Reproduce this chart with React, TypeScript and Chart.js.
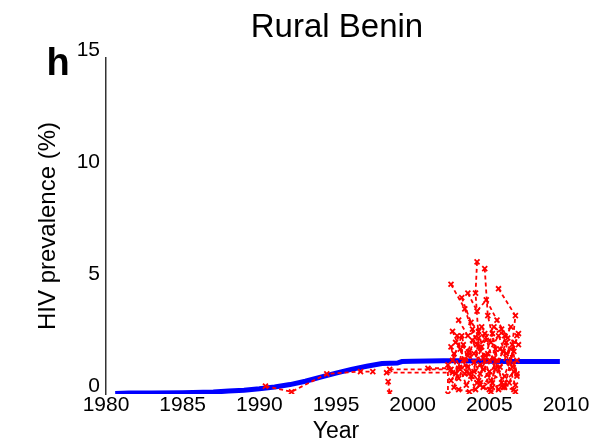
import React, { useEffect, useRef } from "react";
import { Chart, registerables } from "chart.js";

Chart.register(...registerables);

const FONT = "'Liberation Sans', Arial, sans-serif";

// Title texts
const chartTitle = "Rural Benin";
const panelLetter = "h";

// x tick labels (years) and y tick labels
const xTicks = [1980, 1985, 1990, 1995, 2000, 2005, 2010];
const yTicks = [0, 5, 10, 15];

// Model fit (blue)
const modelYears = [1980.6, 1981.5, 1983, 1985, 1987, 1988, 1989, 1990, 1991, 1992, 1993, 1994, 1995, 1996, 1997, 1998, 1999, 1999.3, 2000, 2001, 2002, 2003, 2004, 2005, 2006, 2007, 2008, 2009.6];
const modelValues = [0.02, 0.04, 0.05, 0.06, 0.09, 0.13, 0.17, 0.23, 0.31, 0.42, 0.57, 0.75, 0.93, 1.1, 1.24, 1.36, 1.38, 1.45, 1.46, 1.47, 1.48, 1.48, 1.47, 1.46, 1.45, 1.45, 1.45, 1.45];

// Surveillance sites (red dashed, x markers): [year, prevalence]
const site01: [number, number][] = [[1990.4, 0.35], [1992.1, 0.1], [1994.4, 0.9], [1996.6, 1.0], [1997.4, 1.0]];
const site02: [number, number][] = [[1998.5, 1.1], [2002.5, 1.1]];
const site03: [number, number][] = [[1998.3, 0.95], [2002.6, 0.95]];
const site04: [number, number][] = [[1998.4, 0.55], [1998.5, 0.05]];
const site05: [number, number][] = [[2002.5, 4.9], [2003.4, 3.8], [2004.2, 2.2], [2005.0, 1.5], [2006.0, 0.8]];
const site06: [number, number][] = [[2004.2, 5.9], [2004.1, 4.5], [2004.3, 2.5], [2004.0, 1.0]];
const site07: [number, number][] = [[2005.6, 4.7], [2006.7, 3.5], [2006.5, 2.2], [2006.8, 0.8]];
const site08: [number, number][] = [[2004.7, 5.6], [2004.9, 3.5], [2005.4, 2.0], [2005.2, 0.5]];
const site09: [number, number][] = [[2002.6, 2.8], [2003.1, 2.0], [2003.6, 1.2], [2004.6, 0.3], [2005.5, 1.5]];
const site10: [number, number][] = [[2003.0, 3.3], [2003.6, 2.6], [2004.5, 3.0], [2005.1, 2.3], [2006.1, 1.8]];
const site11: [number, number][] = [[2002.7, 1.8], [2003.5, 0.4], [2004.4, 1.3], [2005.6, 0.2], [2006.6, 1.0]];
const site12: [number, number][] = [[2003.2, 4.3], [2003.8, 3.2], [2004.8, 2.4], [2005.8, 2.9], [2006.5, 1.2]];
const site13: [number, number][] = [[2002.5, 0.6], [2003.3, 1.5], [2004.1, 0.2], [2005.0, 1.0], [2006.7, 0.1]];
const site14: [number, number][] = [[2002.8, 2.3], [2004.0, 1.8], [2005.3, 3.0], [2006.0, 2.6], [2006.9, 2.2]];
const site15: [number, number][] = [[2003.6, 4.5], [2004.2, 3.7], [2004.8, 4.2], [2005.5, 3.3], [2006.2, 2.5]];
const site16: [number, number][] = [[2002.3, 1.3], [2002.3, 0.0]];
const site17: [number, number][] = [[2001.0, 1.15], [2003.0, 1.15]];
const site18: [number, number][] = [[2003.4, 0.9], [2004.3, 0.6], [2005.2, 0.3], [2006.3, 0.5], [2006.8, 1.5]];
const site19: [number, number][] = [[2003.9, 2.9], [2004.6, 1.6], [2005.7, 2.0], [2006.4, 3.0]];
const site20: [number, number][] = [[2002.6, 1.5], [2003.2, 2.6], [2003.8, 0.8], [2004.5, 2.1], [2005.1, 0.6], [2005.9, 1.9], [2006.7, 0.4]];
const site21: [number, number][] = [[2002.7, 0.3], [2003.3, 2.2], [2004.0, 1.4], [2004.7, 2.7], [2005.4, 1.1], [2006.1, 2.3], [2006.8, 0.9]];
const site22: [number, number][] = [[2002.9, 2.6], [2003.5, 1.0], [2004.2, 0.5], [2004.9, 1.8], [2005.6, 2.6], [2006.3, 1.4], [2006.9, 2.7]];
const site23: [number, number][] = [[2002.5, 2.1], [2003.0, 0.7], [2003.7, 1.9], [2004.4, 0.9], [2005.2, 2.7], [2005.8, 0.5], [2006.6, 1.9]];
const site24: [number, number][] = [[2003.1, 1.1], [2003.9, 2.4], [2004.6, 1.1], [2005.3, 1.6], [2006.0, 0.3], [2006.8, 2.6]];
const site25: [number, number][] = [[2002.8, 0.9], [2003.6, 1.7], [2004.3, 2.8], [2005.0, 0.2], [2005.7, 1.2], [2006.4, 2.0]];
const site26: [number, number][] = [[2003.0, 0.2], [2003.7, 0.1], [2004.4, 0.4], [2005.1, 0.1], [2005.9, 0.3], [2006.6, 0.2]];

const sites = [site01, site02, site03, site04, site05, site06, site07, site08, site09, site10, site11, site12, site13, site14, site15, site16, site17, site18, site19, site20, site21, site22, site23, site24, site25, site26];

export default function App() {
  const ref = useRef<HTMLCanvasElement | null>(null);

  useEffect(() => {
    if (!ref.current) return;

    const redSets = sites.map((s) => ({
      data: s.map(([x, y]) => ({ x, y })),
      showLine: true,
      borderColor: "#ff0000",
      backgroundColor: "#ff0000",
      borderWidth: 1.8,
      borderDash: [4, 3],
      pointStyle: "crossRot",
      pointRadius: 3.5,
      pointBorderWidth: 1.8,
      pointBorderColor: "#ff0000",
    }));

    const textPlugin = {
      id: "panelTexts",
      afterDraw(chart: any) {
        const ctx = chart.ctx;
        ctx.save();
        ctx.fillStyle = "#000";
        ctx.textAlign = "center";
        ctx.textBaseline = "alphabetic";
        ctx.font = `33px ${FONT}`;
        ctx.fillText(chartTitle, 337, 37);
        ctx.font = `bold 38px ${FONT}`;
        ctx.fillText(panelLetter, 58, 75);
        ctx.restore();
      },
    };

    const chart = new Chart(ref.current, {
      type: "scatter",
      data: {
        datasets: [
          ...redSets,
          {
            data: modelYears.map((x, i) => ({ x, y: modelValues[i] })),
            showLine: true,
            borderColor: "#0000ff",
            backgroundColor: "#0000ff",
            borderWidth: 5,
            pointRadius: 0,
          },
        ] as any,
      },
      options: {
        animation: false,
        responsive: true,
        maintainAspectRatio: false,
        layout: { padding: { left: 0, right: 33, top: 58, bottom: 0 } },
        plugins: {
          legend: { display: false },
          tooltip: { enabled: false },
          title: { display: false },
        },
        scales: {
          x: {
            type: "linear",
            min: 1980,
            max: 2010,
            afterFit(scale: any) {
              scale.height = 51;
            },
            afterBuildTicks(scale: any) {
              scale.ticks = xTicks.map((v) => ({ value: v }));
            },
            grid: { display: false, drawTicks: false },
            border: { display: false },
            ticks: {
              color: "#000",
              font: { family: FONT, size: 21 },
              padding: -1,
              maxRotation: 0,
              autoSkip: false,
              callback: (v: any) => String(v),
            },
            title: {
              display: true,
              text: "Year",
              color: "#000",
              font: { family: FONT, size: 23 },
              padding: { top: 0, bottom: 0 },
            },
          },
          y: {
            type: "linear",
            min: 0,
            max: 15,
            afterFit(scale: any) {
              scale.width = 106;
            },
            afterBuildTicks(scale: any) {
              scale.ticks = yTicks.map((v) => ({ value: v }));
            },
            grid: { display: false, drawTicks: false },
            border: { display: true, color: "#333", width: 1.5 },
            ticks: {
              color: "#000",
              font: { family: FONT, size: 21 },
              padding: 6,
              labelOffset: -8,
              callback: (v: any) => String(v),
            },
            title: {
              display: true,
              text: "HIV prevalence (%)",
              color: "#000",
              font: { family: FONT, size: 24 },
              padding: { top: 34, bottom: 0 },
            },
          },
        },
      } as any,
      plugins: [textPlugin],
    });

    return () => chart.destroy();
  }, []);

  return (
    <div style={{ position: "absolute", left: 0, top: 0, width: 599, height: 445, background: "#fff" }}>
      <canvas ref={ref} />
    </div>
  );
}
